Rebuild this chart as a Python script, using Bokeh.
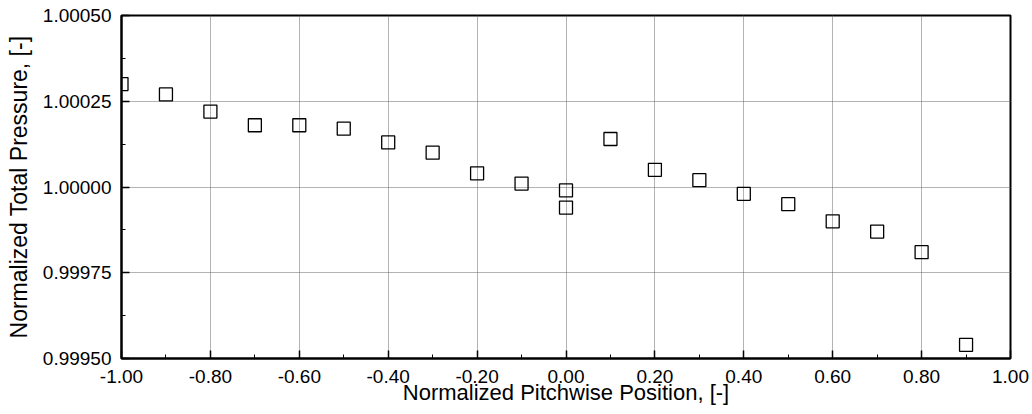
from bokeh.plotting import figure
from bokeh.models import FixedTicker, NumeralTickFormatter, Range1d
from bokeh.embed import file_html
from bokeh.resources import INLINE

# Data
pitch_position = [-1.0, -0.9, -0.8, -0.7, -0.6, -0.5, -0.4, -0.3, -0.2, -0.1,
                  0.0, 0.0, 0.1, 0.2, 0.3, 0.4, 0.5, 0.6, 0.7, 0.8, 0.9]
total_pressure = [1.00030, 1.00027, 1.00022, 1.00018, 1.00018, 1.00017, 1.00013,
                  1.00010, 1.00004, 1.00001, 0.99999, 0.99994, 1.00014, 1.00005,
                  1.00002, 0.99998, 0.99995, 0.99990, 0.99987, 0.99981, 0.99954]

x_major = [-1.0, -0.8, -0.6, -0.4, -0.2, 0.0, 0.2, 0.4, 0.6, 0.8, 1.0]
x_minor = [-0.9, -0.7, -0.5, -0.3, -0.1, 0.1, 0.3, 0.5, 0.7, 0.9]
y_major = [0.99950, 0.99975, 1.00000, 1.00025, 1.00050]
y_minor = [0.999625, 0.999875, 1.000125, 1.000375]

FONT = "Liberation Sans"

p = figure(frame_width=889, frame_height=343,
           x_range=Range1d(-1.0, 1.0), y_range=Range1d(0.9995, 1.0005),
           output_backend="svg", toolbar_location=None,
           min_border_left=121, min_border_right=22,
           min_border_top=15, min_border_bottom=56)

p.scatter(pitch_position, total_pressure, marker="square", size=13,
          fill_color=None, line_color="black", line_width=1.3)

p.xaxis.ticker = FixedTicker(ticks=x_major, minor_ticks=x_minor)
p.yaxis.ticker = FixedTicker(ticks=y_major, minor_ticks=y_minor)
p.xaxis.formatter = NumeralTickFormatter(format="0.00")
p.yaxis.formatter = NumeralTickFormatter(format="0.00000")

p.xaxis.axis_label = "Normalized Pitchwise Position, [-]"
p.yaxis.axis_label = "Normalized Total Pressure, [-]"

for ax in (p.xaxis, p.yaxis):
    ax.axis_line_color = "black"
    ax.axis_line_width = 2
    ax.major_tick_in = 8
    ax.major_tick_out = 0
    ax.minor_tick_in = 4
    ax.minor_tick_out = 0
    ax.major_tick_line_color = "black"
    ax.major_tick_line_width = 1.5
    ax.minor_tick_line_color = "black"
    ax.minor_tick_line_width = 1
    ax.major_label_text_font = FONT
    ax.major_label_text_font_size = "19px"
    ax.major_label_text_color = "black"
    ax.axis_label_text_font = FONT
    ax.axis_label_text_font_style = "normal"
    ax.axis_label_text_color = "black"

p.xaxis.axis_label_text_font_size = "22px"
p.yaxis.axis_label_text_font_size = "23px"
p.xaxis.major_label_standoff = 11
p.yaxis.major_label_standoff = 10
p.xaxis.axis_label_standoff = -6
p.yaxis.axis_label_standoff = 8

for g in (p.xgrid, p.ygrid):
    g.grid_line_color = "#666666"
    g.grid_line_dash = "1 1"
    g.grid_line_width = 1

p.outline_line_color = "black"
p.outline_line_width = 2
p.background_fill_color = "white"
p.border_fill_color = "white"

open("out.html", "w").write(file_html(p, INLINE))
